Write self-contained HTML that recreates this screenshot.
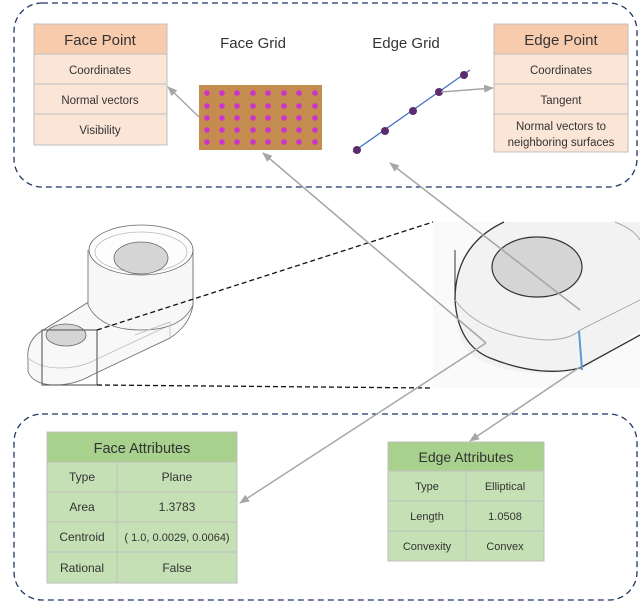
<!DOCTYPE html>
<html><head><meta charset="utf-8"><style>
body{margin:0;background:#fff}
svg{display:block}
text{font-family:"Liberation Sans",sans-serif;fill:#333}
</style></head><body>
<svg width="640" height="603" viewBox="0 0 640 603" xmlns="http://www.w3.org/2000/svg">
<defs>
<marker id="ah" markerWidth="10" markerHeight="8" refX="9" refY="4" orient="auto" markerUnits="userSpaceOnUse"><path d="M0,0 L10,4 L0,8 z" fill="#a6a6a6"/></marker>
</defs>
<rect x="14" y="3" width="623" height="184" rx="28" fill="none" stroke="#1f3864" stroke-width="1.3" stroke-dasharray="6,4"/>
<rect x="14" y="414" width="623" height="186" rx="28" fill="none" stroke="#1f3864" stroke-width="1.3" stroke-dasharray="6,4"/>

<g stroke="#bfbfbf" stroke-width="1">
<rect x="34" y="24" width="133" height="30" fill="#f8cbad"/>
<rect x="34" y="54" width="133" height="30" fill="#fbe5d6"/>
<rect x="34" y="84" width="133" height="30" fill="#fbe5d6"/>
<rect x="34" y="114" width="133" height="31" fill="#fbe5d6"/>
<rect x="494" y="24" width="134" height="30" fill="#f8cbad"/>
<rect x="494" y="54" width="134" height="30" fill="#fbe5d6"/>
<rect x="494" y="84" width="134" height="30" fill="#fbe5d6"/>
<rect x="494" y="114" width="134" height="38" fill="#fbe5d6"/>
</g>
<text x="100" y="45" font-size="15" text-anchor="middle">Face Point</text>
<text x="100" y="74" font-size="11.5" text-anchor="middle">Coordinates</text>
<text x="100" y="104" font-size="11.5" text-anchor="middle">Normal vectors</text>
<text x="100" y="134" font-size="11.5" text-anchor="middle">Visibility</text>
<text x="561" y="45" font-size="15" text-anchor="middle">Edge Point</text>
<text x="561" y="74" font-size="11.5" text-anchor="middle">Coordinates</text>
<text x="561" y="104" font-size="11.5" text-anchor="middle">Tangent</text>
<text x="561" y="130" font-size="11.5" text-anchor="middle">Normal vectors to</text>
<text x="561" y="146" font-size="11.5" text-anchor="middle">neighboring surfaces</text>

<text x="253" y="48" font-size="15" text-anchor="middle">Face Grid</text>
<text x="406" y="48" font-size="15" text-anchor="middle">Edge Grid</text>

<rect x="199" y="85" width="123" height="65" fill="#c58c4f"/>
<g fill="#cc33cc">
<circle cx="207" cy="93" r="2.8"/><circle cx="222" cy="93" r="2.8"/><circle cx="237" cy="93" r="2.8"/><circle cx="253" cy="93" r="2.8"/><circle cx="268" cy="93" r="2.8"/><circle cx="284" cy="93" r="2.8"/><circle cx="299" cy="93" r="2.8"/><circle cx="315" cy="93" r="2.8"/>
<circle cx="207" cy="106" r="2.8"/><circle cx="222" cy="106" r="2.8"/><circle cx="237" cy="106" r="2.8"/><circle cx="253" cy="106" r="2.8"/><circle cx="268" cy="106" r="2.8"/><circle cx="284" cy="106" r="2.8"/><circle cx="299" cy="106" r="2.8"/><circle cx="315" cy="106" r="2.8"/>
<circle cx="207" cy="118" r="2.8"/><circle cx="222" cy="118" r="2.8"/><circle cx="237" cy="118" r="2.8"/><circle cx="253" cy="118" r="2.8"/><circle cx="268" cy="118" r="2.8"/><circle cx="284" cy="118" r="2.8"/><circle cx="299" cy="118" r="2.8"/><circle cx="315" cy="118" r="2.8"/>
<circle cx="207" cy="130" r="2.8"/><circle cx="222" cy="130" r="2.8"/><circle cx="237" cy="130" r="2.8"/><circle cx="253" cy="130" r="2.8"/><circle cx="268" cy="130" r="2.8"/><circle cx="284" cy="130" r="2.8"/><circle cx="299" cy="130" r="2.8"/><circle cx="315" cy="130" r="2.8"/>
<circle cx="207" cy="142" r="2.8"/><circle cx="222" cy="142" r="2.8"/><circle cx="237" cy="142" r="2.8"/><circle cx="253" cy="142" r="2.8"/><circle cx="268" cy="142" r="2.8"/><circle cx="284" cy="142" r="2.8"/><circle cx="299" cy="142" r="2.8"/><circle cx="315" cy="142" r="2.8"/>
</g>
<line x1="353" y1="152" x2="470" y2="70" stroke="#4472c4" stroke-width="1.3"/>
<g fill="#5b2c6f">
<circle cx="357" cy="150" r="4"/><circle cx="385" cy="131" r="4"/><circle cx="413" cy="111" r="4"/><circle cx="439" cy="92" r="4"/><circle cx="464" cy="75" r="4"/>
</g>

<!-- zoomed image -->
<rect x="433" y="222" width="207" height="166" fill="#f2f2f2"/>
<path d="M504,222 Q460,240 455,300 Q455,350 480,360 Q520,380 580,370 L640,330 L640,388 L433,388 L433,222 z" fill="#fafafa"/>
<path d="M504,222 Q455,245 455,300 Q458,345 490,358 Q540,378 580,368 L640,335" fill="none" stroke="#333" stroke-width="1.3"/>
<path d="M455,300 Q480,335 545,340 Q570,340 580,330 L640,300" fill="none" stroke="#aaa" stroke-width="1"/>
<path d="M455,250 L455,300" stroke="#333" fill="none"/>
<ellipse cx="537" cy="267" rx="45" ry="30" fill="#d5d5d5" stroke="#333" stroke-width="1.2"/>
<path d="M615,222 Q635,230 640,240" fill="none" stroke="#aaa"/>
<line x1="579" y1="331" x2="582" y2="370" stroke="#5b9bd5" stroke-width="2"/>

<!-- 3D part -->
<g stroke="#666" stroke-width="0.8" fill="#fbfbfb">
<path d="M92,300 L40,332 Q26,342 28,360 L28,372 Q34,385 55,385 Q75,385 92,375 L170,338 Q190,325 193,305 L193,262 L92,262 z" fill="#f8f8f8"/>
<path d="M28,358 Q40,368 60,368 Q80,368 95,360 L170,325" fill="none" stroke="#bbb"/>
<path d="M88,250 L88,305 Q100,330 141,330 Q182,330 193,305 L193,250" fill="#f7f7f7"/>
<ellipse cx="141" cy="250" rx="52" ry="25" fill="#fdfdfd"/>
<ellipse cx="141" cy="252" rx="46" ry="20" fill="none" stroke="#bbb"/>
<ellipse cx="141" cy="258" rx="27" ry="16" fill="#d5d5d5"/>
<path d="M135,335 L170,322 L170,338" fill="none" stroke="#bbb"/>
<ellipse cx="66" cy="335" rx="20" ry="11" fill="#d5d5d5"/>
</g>
<rect x="42" y="330" width="55" height="55" fill="none" stroke="#666" stroke-width="1.2"/>
<line x1="97" y1="330" x2="433" y2="222" stroke="#111" stroke-width="1.3" stroke-dasharray="5,3"/>
<line x1="97" y1="385" x2="433" y2="388" stroke="#111" stroke-width="1.3" stroke-dasharray="5,3"/>

<!-- connectors -->
<g stroke="#a6a6a6" stroke-width="1.5" fill="none">
<line x1="199" y1="117" x2="168" y2="87" marker-end="url(#ah)"/>
<line x1="441" y1="92" x2="493" y2="88" marker-end="url(#ah)"/>
<line x1="486" y1="343" x2="263" y2="153" marker-end="url(#ah)"/>
<line x1="486" y1="343" x2="240" y2="503" marker-end="url(#ah)"/>
<line x1="580" y1="310" x2="390" y2="163" marker-end="url(#ah)"/>
<line x1="580" y1="367" x2="470" y2="441" marker-end="url(#ah)"/>
</g>

<g stroke="#bfbfbf" stroke-width="1">
<rect x="47" y="432" width="190" height="30" fill="#a9d18e"/>
<rect x="47" y="462" width="70" height="30" fill="#c5e0b4"/><rect x="117" y="462" width="120" height="30" fill="#c5e0b4"/>
<rect x="47" y="492" width="70" height="30" fill="#c5e0b4"/><rect x="117" y="492" width="120" height="30" fill="#c5e0b4"/>
<rect x="47" y="522" width="70" height="30" fill="#c5e0b4"/><rect x="117" y="522" width="120" height="30" fill="#c5e0b4"/>
<rect x="47" y="552" width="70" height="31" fill="#c5e0b4"/><rect x="117" y="552" width="120" height="31" fill="#c5e0b4"/>
<rect x="388" y="442" width="156" height="29" fill="#a9d18e"/>
<rect x="388" y="471" width="78" height="30" fill="#c5e0b4"/><rect x="466" y="471" width="78" height="30" fill="#c5e0b4"/>
<rect x="388" y="501" width="78" height="30" fill="#c5e0b4"/><rect x="466" y="501" width="78" height="30" fill="#c5e0b4"/>
<rect x="388" y="531" width="78" height="30" fill="#c5e0b4"/><rect x="466" y="531" width="78" height="30" fill="#c5e0b4"/>
</g>
<g font-size="12" text-anchor="middle">
<text x="142" y="453" font-size="14.5">Face Attributes</text>
<text x="82" y="481">Type</text><text x="177" y="481">Plane</text>
<text x="82" y="511">Area</text><text x="177" y="511">1.3783</text>
<text x="82" y="541">Centroid</text><text x="177" y="541" font-size="11">( 1.0, 0.0029, 0.0064)</text>
<text x="82" y="572">Rational</text><text x="177" y="572">False</text>
<text x="466" y="462" font-size="14">Edge Attributes</text>
<text x="427" y="490" font-size="11">Type</text><text x="505" y="490" font-size="11">Elliptical</text>
<text x="427" y="520" font-size="11">Length</text><text x="505" y="520" font-size="11">1.0508</text>
<text x="427" y="550" font-size="11">Convexity</text><text x="505" y="550" font-size="11">Convex</text>
</g>
</svg>
</body></html>
